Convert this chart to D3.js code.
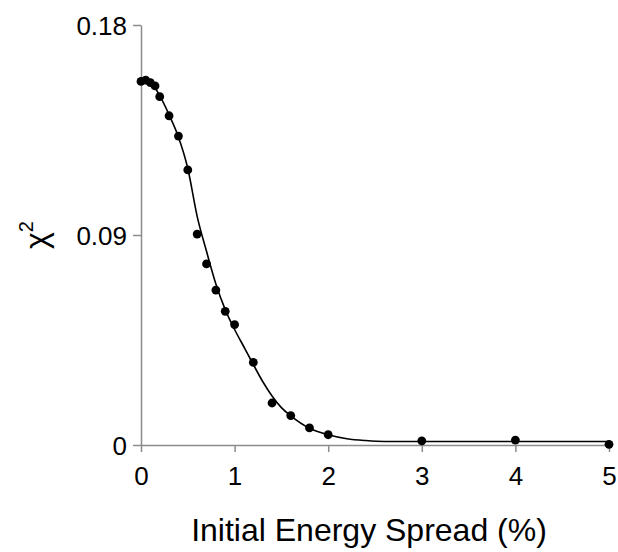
<!DOCTYPE html>
<html>
  <head>
    <meta charset="utf-8" />
    <title>chi2 vs energy spread</title>
    <script src="https://cdn.jsdelivr.net/npm/d3@7"></script>
    <style>
      body { margin: 0; padding: 0; background: #fff; }
      text { font-family: "Liberation Sans", Arial, sans-serif; fill: #000; }
      .axis path, .axis line { stroke: #8c8c8c; stroke-width: 1.5; }
      .curve { fill: none; stroke: #000; stroke-width: 1.6; }
    </style>
  </head>
  <body>
    <script>
      // measured points
      var spread = [0, 0.05, 0.1, 0.15, 0.2, 0.3, 0.4, 0.5, 0.6, 0.7, 0.8, 0.9, 1.0, 1.2, 1.4, 1.6, 1.8, 2.0, 3, 4, 5];
      var chi2 = [0.1558, 0.1564, 0.1553, 0.1539, 0.1493, 0.1411, 0.1324, 0.1179, 0.0904, 0.0776, 0.0664, 0.0573, 0.0516, 0.0354, 0.0180, 0.0126, 0.0073, 0.0044, 0.0018, 0.0021, 0.0003];

      // fitted curve
      var fitX = [0, 0.1, 0.2, 0.3, 0.4, 0.5, 0.6, 0.7, 0.8, 0.9, 1.0, 1.1, 1.2, 1.3, 1.4, 1.5, 1.6, 1.8, 2.0, 2.2, 2.4, 2.6, 2.8, 3.0, 4.0, 5.0];
      var fitY = [0.1558, 0.1553, 0.1497, 0.1415, 0.1320, 0.1185, 0.0980, 0.0830, 0.0690, 0.0580, 0.0495, 0.0420, 0.0345, 0.0272, 0.0210, 0.0160, 0.0125, 0.0072, 0.0044, 0.0027, 0.0019, 0.0015, 0.0015, 0.0015, 0.0015, 0.0015];

      var xTicks = [0, 1, 2, 3, 4, 5];
      var yTicks = [0, 0.09, 0.18];

      var W = 618, H = 552;
      var margin = {left: 141, right: 9, top: 25, bottom: 107};

      var x = d3.scaleLinear().domain([0, 5]).range([margin.left, W - margin.right]);
      var y = d3.scaleLinear().domain([0, 0.18]).range([H - margin.bottom, margin.top]);

      var svg = d3.select("body").append("svg")
          .attr("width", W)
          .attr("height", H);

      svg.append("g")
          .attr("class", "axis")
          .attr("transform", "translate(0," + y(0) + ")")
          .call(d3.axisBottom(x).tickValues(xTicks).tickFormat(d3.format("d")).tickSize(7).tickSizeOuter(0))
        .selectAll("text")
          .attr("y", 40)
          .attr("dy", 0)
          .style("font-size", "26px");

      svg.append("g")
          .attr("class", "axis")
          .attr("transform", "translate(" + x(0) + ",0)")
          .call(d3.axisLeft(y).tickValues(yTicks).tickFormat(function(d) { return d === 0 ? "0" : d3.format(".2f")(d); }).tickSize(8).tickSizeOuter(0))
        .selectAll("text")
          .attr("x", -14)
          .attr("dy", "0.36em")
          .style("font-size", "26px");

      var line = d3.line()
          .curve(d3.curveMonotoneX)
          .x(function(d, i) { return x(fitX[i]); })
          .y(function(d) { return y(d); });

      svg.append("path")
          .datum(fitY)
          .attr("class", "curve")
          .attr("d", line);

      svg.selectAll(".dot")
          .data(chi2)
        .enter().append("circle")
          .attr("class", "dot")
          .attr("cx", function(d, i) { return x(spread[i]); })
          .attr("cy", function(d) { return y(d); })
          .attr("r", 4.4)
          .style("fill", "#000");

      svg.append("text")
          .attr("x", 369)
          .attr("y", 541)
          .attr("text-anchor", "middle")
          .style("font-size", "32px")
          .text("Initial Energy Spread (%)");

      var ylab = svg.append("text")
          .attr("transform", "translate(47," + y(0.09) + ") rotate(-90)")
          .attr("text-anchor", "middle")
          .style("font-size", "32px");
      ylab.append("tspan").text("\u03c7");
      ylab.append("tspan").attr("dy", "-0.7em").style("font-size", "20px").text("2");
    </script>
  </body>
</html>
